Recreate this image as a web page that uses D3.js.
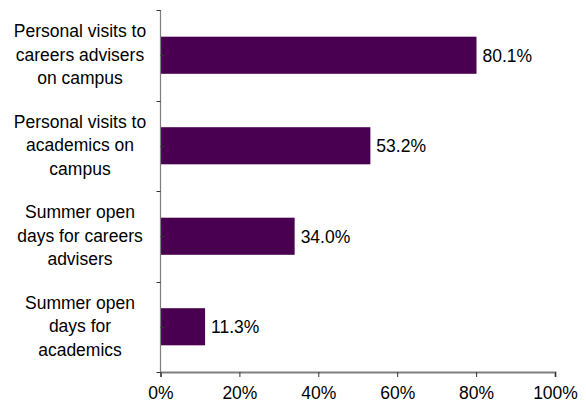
<!DOCTYPE html>
<html>
<head>
<meta charset="utf-8">
<script src="https://cdn.jsdelivr.net/npm/d3@7"></script>
<style>
  html, body { margin: 0; padding: 0; background: #fff; }
  svg { display: block; font-family: "Liberation Sans", Arial, sans-serif; }
</style>
</head>
<body>
<svg id="chart" width="586" height="406"></svg>
<script>
// Survey responses: share of respondents for each kind of visit
const categories = [
  ["Personal visits to", "careers advisers", "on campus"],
  ["Personal visits to", "academics on", "campus"],
  ["Summer open", "days for careers", "advisers"],
  ["Summer open", "days for", "academics"]
];
const values = [80.1, 53.2, 34.0, 11.3];
const xTicks = [0, 20, 40, 60, 80, 100];

const svg = d3.select("#chart");
const margin = { left: 160.5, right: 31, top: 10, bottom: 34 };
const W = 586, H = 406;
const fs = 17.5;

const ids = categories.map((_, i) => i);
const x = d3.scaleLinear().domain([0, 100]).range([margin.left, W - margin.right]);
const y = d3.scaleBand().domain(ids).range([margin.top, H - margin.bottom]).paddingInner(0.59).paddingOuter(0.295);
const band = d3.scaleBand().domain(ids).range([margin.top, H - margin.bottom]);

const axisColor = "#7f7f7f";
const tickColor = "#333";

// bars
svg.append("g").selectAll("rect").data(values).join("rect")
  .attr("x", x(0))
  .attr("y", (d, i) => y(i))
  .attr("width", d => x(d) - x(0))
  .attr("height", y.bandwidth())
  .attr("fill", "#4a0050");

// value labels
svg.append("g").selectAll("text").data(values).join("text")
  .attr("x", d => x(d) + 6)
  .attr("y", (d, i) => y(i) + y.bandwidth() / 2 + 6.5)
  .attr("font-size", fs)
  .attr("fill", "#000")
  .text(d => d.toFixed(1) + "%");

// x axis
const xAxis = d3.axisBottom(x).tickValues(xTicks).tickFormat(d => d + "%").tickSize(5).tickPadding(10);
const gx = svg.append("g").attr("transform", `translate(0,${H - margin.bottom})`).call(xAxis);
gx.select(".domain").attr("stroke", axisColor).attr("stroke-width", 2);
gx.selectAll(".tick line").attr("stroke", tickColor);
gx.selectAll(".tick text").attr("font-size", fs).attr("fill", "#000").attr("font-family", "Liberation Sans, Arial, sans-serif");

// y axis line: outer ticks at category boundaries, inner ticks at category centres
const gy = svg.append("g");
gy.append("line")
  .attr("x1", x(0)).attr("x2", x(0))
  .attr("y1", margin.top).attr("y2", H - margin.bottom)
  .attr("stroke", axisColor).attr("stroke-width", 1.2);
const bounds = ids.map(i => band(i)).concat([band(ids[ids.length - 1]) + band.bandwidth()]);
gy.selectAll("line.b").data(bounds).join("line").attr("class", "b")
  .attr("x1", x(0) - 4).attr("x2", x(0))
  .attr("y1", d => Math.round(d) + 0.5).attr("y2", d => Math.round(d) + 0.5)
  .attr("stroke", tickColor);
gy.selectAll("line.c").data(ids).join("line").attr("class", "c")
  .attr("x1", x(0)).attr("x2", x(0) + 4)
  .attr("y1", i => Math.round(band(i) + band.bandwidth() / 2) + 0.5)
  .attr("y2", i => Math.round(band(i) + band.bandwidth() / 2) + 0.5)
  .attr("stroke", tickColor);

// category labels
const lh = 23.5;
svg.append("g").selectAll("text").data(categories).join("text")
  .attr("text-anchor", "middle")
  .attr("font-size", fs)
  .attr("fill", "#000")
  .each(function (lines, i) {
    const cy = band(i) + band.bandwidth() / 2;
    const t = d3.select(this);
    lines.forEach((ln, k) => {
      t.append("tspan")
        .attr("x", 80)
        .attr("y", cy + (k - (lines.length - 1) / 2) * lh + 5.5)
        .text(ln);
    });
  });
</script>
</body>
</html>
